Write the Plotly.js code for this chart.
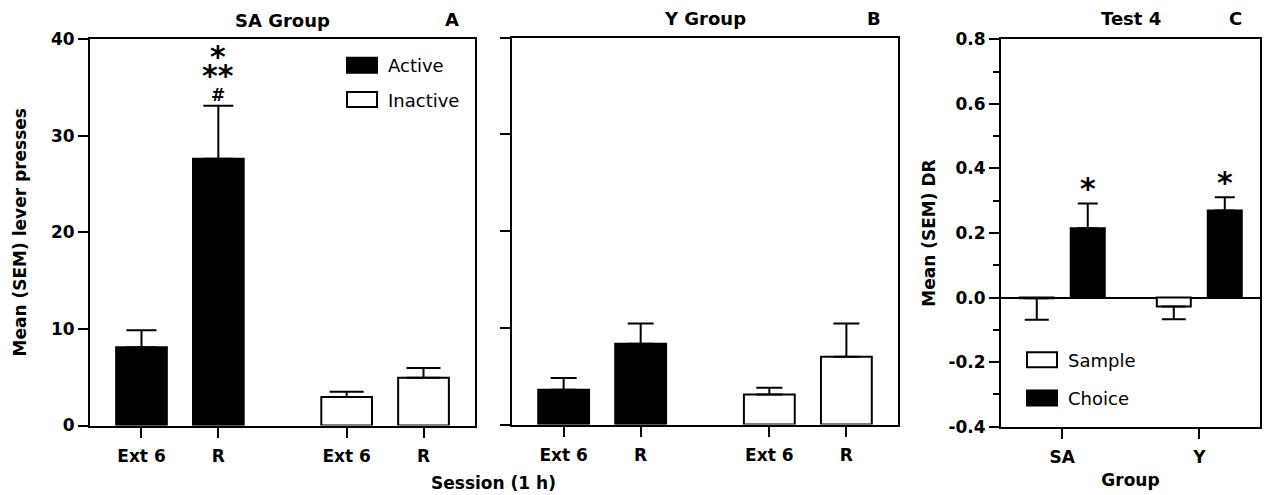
<!DOCTYPE html>
<html>
<head>
<meta charset="utf-8">
<script src="https://cdn.plot.ly/plotly-3.0.1.min.js"></script>
<style>html,body{margin:0;padding:0;background:#fff;}#chart{width:1264px;height:495px;}</style>
</head>
<body>
<div id="chart"></div>
<script>
// ---------- data ----------
const sessionLabels = ["Ext 6", "R", "Ext 6", "R"];
const leverTypes = ["Active", "Inactive"];

// Panel A: SA Group (mean lever presses, SEM)
const saActive = [8.1, 27.6];
const saActiveSem = [1.75, 5.5];
const saInactive = [2.95, 4.95];
const saInactiveSem = [0.55, 1.0];

// Panel B: Y Group
const yActive = [3.6, 8.35];
const yActiveSem = [1.2, 2.1];
const yInactive = [3.1, 7.0];
const yInactiveSem = [0.7, 3.45];

// Panel C: Test 4 discrimination ratio
const groups = ["SA", "Y"];
const sampleDR = [-0.002, -0.028];
const sampleSem = [0.067, 0.039];
const choiceDR = [0.215, 0.27];
const choiceSem = [0.076, 0.041];

const drTickVals = [-0.4, -0.2, 0, 0.2, 0.4, 0.6, 0.8];
const drTickText = ["-0.4", "-0.2", "0.0", "0.2", "0.4", "0.6", "0.8"];

// significance markers
const saMarks = ["*", "**", "#"];
const drMark = "*";

// ---------- layout helpers ----------
const W = 1264, H = 495;
const GAP = 0.67;      // extra space between Active and Inactive pairs
const BARW = 0.66;
const pos = sessionLabels.map((s, i) => i + (i >= 2 ? GAP : 0));
const activePos = pos.slice(0, 2);
const inactivePos = pos.slice(2, 4);
const zeros = [0, 0];

function px(x) { return x / W; }
function py(y) { return 1 - y / H; }

const black = "#000000";

function leverBar(name, x, y, err, fill, xa, ya, legend, show, capw) {
  return {
    type: "bar", name: name, x: x, y: y,
    xaxis: xa, yaxis: ya,
    width: x.map(() => BARW), offset: x.map(() => -BARW / 2),
    marker: { color: fill, line: { color: black, width: 2 } },
    error_y: { type: "data", symmetric: false, array: err, arrayminus: zeros,
               color: black, thickness: 2, width: capw },
    showlegend: show, legendgroup: name, legend: legend,
    hoverinfo: "x+y"
  };
}

const traces = [
  leverBar(leverTypes[0], activePos, saActive, saActiveSem, black, "x", "y", "legend", true, 15),
  leverBar(leverTypes[1], inactivePos, saInactive, saInactiveSem, "#ffffff", "x", "y", "legend", true, 17),
  leverBar(leverTypes[0], activePos, yActive, yActiveSem, black, "x2", "y2", "legend", false, 13),
  leverBar(leverTypes[1], inactivePos, yInactive, yInactiveSem, "#ffffff", "x2", "y2", "legend", false, 13),
  {
    type: "bar", name: "Sample", x: groups, y: sampleDR, xaxis: "x3", yaxis: "y3",
    marker: { color: "#ffffff", line: { color: black, width: 2 } },
    error_y: { type: "data", symmetric: false, array: zeros, arrayminus: sampleSem,
               color: black, thickness: 2, width: 12 },
    legend: "legend2", legendgroup: "Sample"
  },
  {
    type: "bar", name: "Choice", x: groups, y: choiceDR, xaxis: "x3", yaxis: "y3",
    marker: { color: black, line: { color: black, width: 2 } },
    error_y: { type: "data", symmetric: false, array: choiceSem, arrayminus: zeros,
               color: black, thickness: 2, width: 10 },
    legend: "legend2", legendgroup: "Choice"
  }
];

const axisCommon = {
  showline: true, linecolor: black, linewidth: 2, mirror: true,
  ticks: "outside", ticklen: 10, tickwidth: 2, tickcolor: black,
  showgrid: false, zeroline: false, automargin: false, fixedrange: true,
  tickfont: { family: "DejaVu Sans", size: 17, weight: "bold", color: black }
};

const bold = { family: "DejaVu Sans", size: 17, weight: "bold", color: black };
const boldTitle = { family: "DejaVu Sans", size: 18, weight: "bold", color: black };
const starFont = { family: "DejaVu Sans", size: 30, weight: "bold", color: black };

const saTop = saActive[1] + saActiveSem[1];

const layout = {
  width: W, height: H,
  margin: { l: 0, r: 0, t: 0, b: 0 },
  paper_bgcolor: "#ffffff", plot_bgcolor: "#ffffff",
  font: { family: "DejaVu Sans", size: 17, color: black },
  barmode: "group", bargap: 0.256, bargroupgap: 0.333,
  showlegend: true,
  xaxis: Object.assign({}, axisCommon, {
    domain: [px(90), px(475)], anchor: "y", range: [-0.67, 4.34],
    tickmode: "array", tickvals: pos, ticktext: sessionLabels, ticklabelstandoff: 4
  }),
  yaxis: Object.assign({}, axisCommon, {
    domain: [py(425.5), py(39)], anchor: "x", range: [0, 40], dtick: 10,
    title: { text: "Mean (SEM) lever presses", font: bold, standoff: 20 }
  }),
  xaxis2: Object.assign({}, axisCommon, {
    domain: [px(512), px(898)], anchor: "y2", range: [-0.67, 4.34],
    tickmode: "array", tickvals: pos, ticktext: sessionLabels, ticklabelstandoff: 4
  }),
  yaxis2: Object.assign({}, axisCommon, {
    domain: [py(424.5), py(37.5)], anchor: "x2", range: [0, 40], dtick: 10,
    showticklabels: false
  }),
  xaxis3: Object.assign({}, axisCommon, {
    domain: [px(1001), px(1260)], anchor: "y3", type: "category", range: [-0.447, 1.443],
    ticklabelstandoff: 4,
    title: { text: "Group", font: bold, standoff: 8 }
  }),
  yaxis3: Object.assign({}, axisCommon, {
    domain: [py(426.7), py(39.3)], anchor: "x3", range: [-0.4, 0.8],
    tickmode: "array", tickvals: drTickVals, ticktext: drTickText,
    minor: { dtick: 0.1, tick0: 0, ticks: "outside", ticklen: 6, tickwidth: 2, tickcolor: black },
    zeroline: true, zerolinecolor: black, zerolinewidth: 2,
    title: { text: "Mean (SEM) DR", font: bold, standoff: 8 }
  }),
  legend: {
    x: px(336), y: py(47), xanchor: "left", yanchor: "top", itemwidth: 42,
    bgcolor: "rgba(0,0,0,0)", borderwidth: 0, tracegroupgap: 8,
    font: { family: "DejaVu Sans", size: 18, color: black, weight: "normal" }
  },
  legend2: {
    x: px(1016), y: py(341.5), xanchor: "left", yanchor: "top", itemwidth: 42,
    bgcolor: "rgba(0,0,0,0)", borderwidth: 0, tracegroupgap: 12,
    font: { family: "DejaVu Sans", size: 18, color: black, weight: "normal" }
  },
  annotations: [
    { text: "SA Group", xref: "x domain", yref: "y domain", x: 0.5, y: 1, yshift: 18, showarrow: false, font: boldTitle, xanchor: "center", yanchor: "middle" },
    { text: "A", xref: "x domain", yref: "y domain", x: 0.94, y: 1, yshift: 19, showarrow: false, font: boldTitle, xanchor: "center", yanchor: "middle" },
    { text: "Y Group", xref: "x2 domain", yref: "y2 domain", x: 0.5, y: 1, yshift: 19, showarrow: false, font: boldTitle, xanchor: "center", yanchor: "middle" },
    { text: "B", xref: "x2 domain", yref: "y2 domain", x: 0.937, y: 1, yshift: 19, showarrow: false, font: boldTitle, xanchor: "center", yanchor: "middle" },
    { text: "Test 4", xref: "x3 domain", yref: "y3 domain", x: 0.5, y: 1, yshift: 21, showarrow: false, font: boldTitle, xanchor: "center", yanchor: "middle" },
    { text: "C", xref: "x3 domain", yref: "y3 domain", x: 0.907, y: 1, yshift: 21, showarrow: false, font: boldTitle, xanchor: "center", yanchor: "middle" },
    { text: "Session (1 h)", xref: "paper", yref: "paper", x: px(494), y: py(483), showarrow: false, font: bold, xanchor: "center", yanchor: "middle" },
    // significance markers above SA / R / Active
    { text: saMarks[2], xref: "x", yref: "y", x: activePos[1], y: saTop, yshift: 11, showarrow: false, font: bold, xanchor: "center", yanchor: "middle" },
    { text: saMarks[1], xref: "x", yref: "y", x: activePos[1], y: saTop, yshift: 30, showarrow: false, font: starFont, xanchor: "center", yanchor: "middle" },
    { text: saMarks[0], xref: "x", yref: "y", x: activePos[1], y: saTop, yshift: 49, showarrow: false, font: starFont, xanchor: "center", yanchor: "middle" },
    { text: drMark, xref: "x3", yref: "y3", x: groups[0], xshift: 25.5, y: choiceDR[0] + choiceSem[0], yshift: 15, showarrow: false, font: starFont, xanchor: "center", yanchor: "middle" },
    { text: drMark, xref: "x3", yref: "y3", x: groups[1], xshift: 25.5, y: choiceDR[1] + choiceSem[1], yshift: 15, showarrow: false, font: starFont, xanchor: "center", yanchor: "middle" }
  ]
};

Plotly.newPlot("chart", traces, layout, { displayModeBar: false, staticPlot: true }).then(function (gd) {
  // widen the legend swatches to the wide rectangles of the original figure
  gd.querySelectorAll(".legendpoints path").forEach(function (p) {
    p.setAttribute("d", "M15,7.5H-15V-7.5H15Z");
  });
});
</script>
</body>
</html>
